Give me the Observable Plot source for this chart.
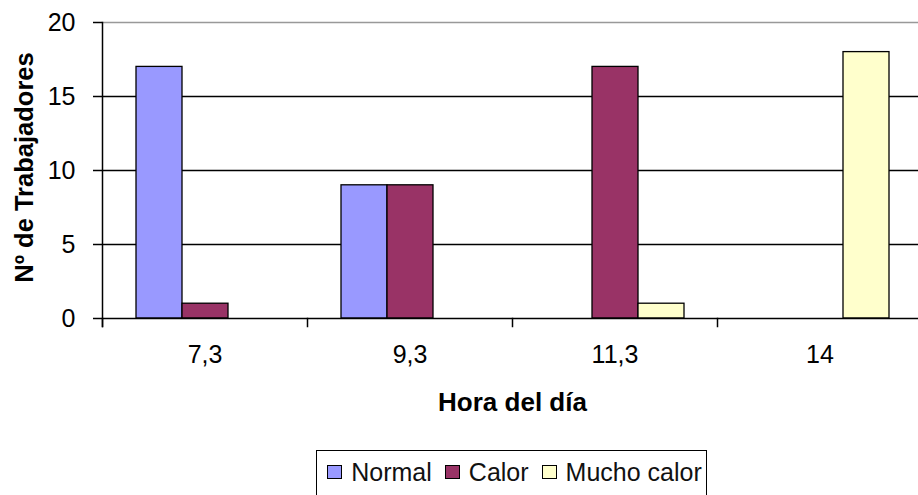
<!DOCTYPE html>
<html>
<head>
<meta charset="utf-8">
<script src="https://cdn.jsdelivr.net/npm/d3@7"></script>
<script src="https://cdn.jsdelivr.net/npm/@observablehq/plot@0.6"></script>
<style>
  body { margin: 0; background: #fff; font-family: "Liberation Sans", Arial, sans-serif; }
  #chart svg { display: block; }
  .legend-wrap { display: flex; justify-content: center; margin-left: 101px; margin-right: -4px; margin-top: 4px; }
  .legend { border: 1.5px solid #000; display: flex; align-items: center; padding: 8px 4px 14px 10px; font-size: 25px; line-height: 26px; color: #111; }
  .legend .item { display: flex; align-items: center; margin-right: 13px; }
  .legend .item:last-child { margin-right: 0; }
  .legend .sw { width: 15px; height: 14px; border: 1.5px solid #000; margin-right: 9px; box-sizing: border-box; }
</style>
</head>
<body>
<div id="chart"></div>
<script>
const categories = ["7,3", "9,3", "11,3", "14"];
const series = ["Normal", "Calor", "Mucho calor"];
const normal = [17, 9, 0, 0];
const calor = [1, 9, 17, 0];
const muchoCalor = [0, 0, 1, 18];
const colors = ["#9999FF", "#993366", "#FFFFCC"];
const yTicks = [0, 5, 10, 15, 20];
const xLabel = "Hora del día";
const yLabel = "Nº de Trabajadores";

const valuesBySeries = [normal, calor, muchoCalor];
const data = categories.flatMap((c, i) =>
  series.map((s, k) => ({hora: c, serie: s, n: valuesBySeries[k][i]}))
);

const chart = Plot.plot({
  width: 918,
  height: 446,
  marginLeft: 101,
  marginRight: -4,
  marginTop: 22,
  marginBottom: 128,
  style: {fontFamily: '"Liberation Sans", Arial, sans-serif', fontSize: "25px", color: "#000", background: "#fff", overflow: "hidden"},
  fx: {domain: categories, padding: 0, label: null},
  x: {domain: series, paddingInner: 0, paddingOuter: 0.7, axis: null},
  y: {domain: [0, 20], ticks: yTicks, label: null},
  color: {domain: series, range: colors},
  marks: [
    Plot.ruleY([5, 10, 15], {stroke: "#000", strokeWidth: 1.5}),
    Plot.ruleY([20], {stroke: "#999", strokeWidth: 1.5}),
    Plot.barY(data, {fx: "hora", x: "serie", y: "n", fill: "serie", stroke: "#000", strokeWidth: 1.3}),
    Plot.ruleY([0], {stroke: "#000", strokeWidth: 1.5}),
    Plot.frame({anchor: "left", insetTop: 296, insetBottom: -8, stroke: "#000", strokeWidth: 1.5}),
    Plot.frame({anchor: "left", facet: "super", insetBottom: -8, stroke: "#000", strokeWidth: 1.5}),
    Plot.axisY(yTicks, {tickSize: 9, tickPadding: 18, label: null, fontSize: 25, strokeWidth: 1.5}),
    Plot.axisFx({anchor: "bottom", tickSize: 0, tickPadding: 27, label: null, fontSize: 25}),
    Plot.text([yLabel], {frameAnchor: "left", rotate: -90, dx: -78, dy: -3, fontWeight: "bold", fontSize: 25.5, lineAnchor: "middle", textAnchor: "middle", facet: "super"}),
    Plot.text([xLabel], {frameAnchor: "bottom", dy: 84, fontWeight: "bold", fontSize: 26, lineAnchor: "middle", facet: "super"})
  ]
});
document.getElementById("chart").appendChild(chart);

const wrap = document.createElement("div");
wrap.className = "legend-wrap";
const legend = document.createElement("div");
legend.className = "legend";
series.forEach((s, k) => {
  const item = document.createElement("div");
  item.className = "item";
  const sw = document.createElement("span");
  sw.className = "sw";
  sw.style.background = colors[k];
  const t = document.createElement("span");
  t.textContent = s;
  item.appendChild(sw);
  item.appendChild(t);
  legend.appendChild(item);
});
wrap.appendChild(legend);
document.body.appendChild(wrap);
</script>
</body>
</html>
